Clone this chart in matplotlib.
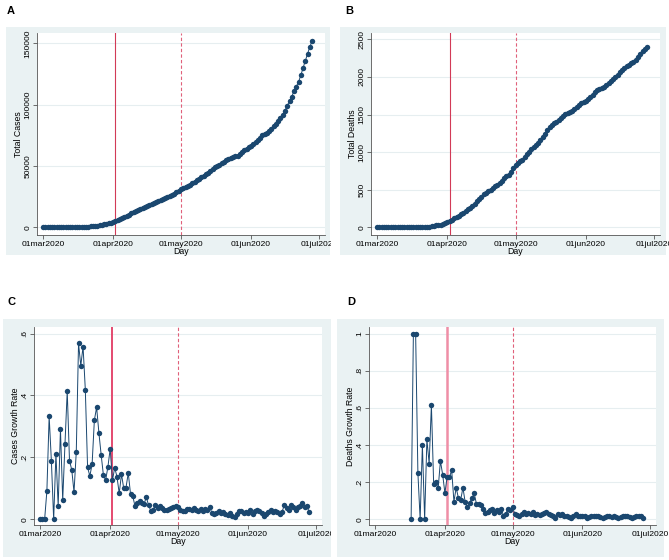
import numpy as np
import pandas as pd
import matplotlib
matplotlib.use("Agg")
import matplotlib.pyplot as plt
from matplotlib.patches import Rectangle

plt.rcParams['font.family'] = ['Liberation Sans', 'DejaVu Sans']

# daily series, 01mar2020 .. 28jun2020
total_cases = [
    11, 11, 11, 12, 16, 19, 19, 23, 24, 31,
    33, 41, 58, 69, 80, 87, 106, 166, 249, 388,
    551, 643, 733, 863, 1139, 1551, 1985, 2400, 2743, 3091,
    3617, 4441, 5000, 5835, 6640, 7198, 8249, 9074, 10009, 11510,
    12454, 13388, 13950, 14675, 15527, 16365, 17183, 18420, 19249, 19788,
    20421, 21360, 22150, 23103, 23981, 24748, 25491, 26332, 27306, 28398,
    29648, 30863, 31851, 32711, 33562, 34703, 35918, 37067, 38438, 39591,
    40621, 42002, 43178, 44646, 45985, 47779, 48830, 49758, 50852, 52175,
    53270, 54602, 55639, 56363, 57490, 58065, 58471, 59465, 61011, 62720,
    63974, 65110, 66300, 68000, 69400, 71200, 73100, 74900, 76200, 77100,
    78300, 80100, 82400, 84300, 86600, 88700, 91400, 95200, 99200, 102700,
    106600, 110900, 114600, 118600, 123800, 129900, 135700, 141600, 147000, 152000,
]
total_deaths = [
    0, 0, 0, 0, 0, 0, 0, 0, 0, 0,
    0, 0, 0, 0, 0, 1, 1, 2, 4, 5,
    5, 7, 7, 10, 13, 21, 25, 30, 35, 46,
    57, 67, 80, 98, 120, 132, 154, 171, 189, 220,
    240, 255, 278, 308, 350, 378, 408, 438, 462, 478,
    497, 521, 549, 568, 596, 620, 653, 680, 700, 740,
    785, 835, 862, 884, 898, 930, 975, 1002, 1035, 1062,
    1093, 1120, 1160, 1198, 1245, 1290, 1330, 1360, 1385, 1400,
    1425, 1455, 1480, 1510, 1525, 1535, 1545, 1570, 1597, 1630,
    1650, 1662, 1680, 1710, 1735, 1765, 1795, 1820, 1838, 1850,
    1860, 1890, 1920, 1945, 1978, 2000, 2030, 2060, 2090, 2115,
    2140, 2165, 2180, 2195, 2225, 2265, 2305, 2340, 2375, 2395,
]
cases_growth = [
    0, 0, 0, 0.092, 0.333, 0.187, 0, 0.211, 0.043, 0.292,
    0.062, 0.243, 0.415, 0.19, 0.16, 0.088, 0.218, 0.568, 0.496, 0.558,
    0.419, 0.168, 0.14, 0.178, 0.32, 0.362, 0.28, 0.209, 0.143, 0.127,
    0.17, 0.228, 0.126, 0.167, 0.138, 0.084, 0.146, 0.10, 0.103, 0.15,
    0.082, 0.075, 0.042, 0.052, 0.058, 0.054, 0.05, 0.072, 0.045, 0.028,
    0.032, 0.046, 0.037, 0.043, 0.038, 0.032, 0.03, 0.033, 0.037, 0.04,
    0.044, 0.041, 0.032, 0.027, 0.026, 0.034, 0.035, 0.032, 0.037, 0.03,
    0.026, 0.034, 0.028, 0.034, 0.03, 0.039, 0.022, 0.019, 0.022, 0.026,
    0.021, 0.025, 0.019, 0.013, 0.02, 0.01, 0.007, 0.017, 0.026, 0.028,
    0.02, 0.024, 0.021, 0.029, 0.019, 0.026, 0.029, 0.026, 0.02, 0.011,
    0.017, 0.025, 0.031, 0.023, 0.028, 0.024, 0.017, 0.024, 0.045, 0.037,
    0.032, 0.045, 0.039, 0.03, 0.041, 0.043, 0.053, 0.041, 0.043, 0.025,
]
nan = np.nan
deaths_growth = [
    nan, nan, nan, nan, nan, nan, nan, nan, nan, nan,
    nan, nan, nan, nan, nan, nan, 0, 1.0, 1.0, 0.25,
    0, 0.4, 0, 0.43, 0.3, 0.615, 0.19, 0.2, 0.166, 0.314,
    0.24, 0.141, 0.229, 0.225, 0.264, 0.095, 0.17, 0.113, 0.104, 0.17,
    0.091, 0.064, 0.09, 0.113, 0.139, 0.082, 0.08, 0.075, 0.055, 0.035,
    0.04, 0.05, 0.055, 0.035, 0.05, 0.04, 0.055, 0.02, 0.03, 0.055,
    0.05, 0.065, 0.03, 0.025, 0.015, 0.03, 0.04, 0.03, 0.035, 0.03,
    0.04, 0.025, 0.03, 0.025, 0.03, 0.035, 0.04, 0.03, 0.025, 0.015,
    0.005, 0.03, 0.025, 0.03, 0.015, 0.02, 0.01, 0.005, 0.015, 0.03,
    0.015, 0.02, 0.015, 0.02, 0.005, 0.01, 0.02, 0.02, 0.015, 0.015,
    0.01, 0.005, 0.01, 0.015, 0.015, 0.01, 0.015, 0.01, 0.005, 0.01,
    0.02, 0.02, 0.015, 0.01, 0.005, 0.01, 0.015, 0.02, 0.015, 0.005,
]

days = pd.date_range("2020-03-01", periods=len(total_cases))
tick_dates = pd.to_datetime(["2020-03-01", "2020-04-01", "2020-05-01", "2020-06-01", "2020-07-01"])
tick_names = ["01mar2020", "01apr2020", "01may2020", "01jun2020", "01jul2020"]
lockdown = pd.Timestamp("2020-04-02")
reopen = pd.Timestamp("2020-05-01")

W, H = 669, 560
NAVY = "#1a476f"
REGION = "#eaf2f3"
fig = plt.figure(figsize=(W / 100, H / 100), dpi=100)


def px_axes(x0, y0, x1, y1):
    return fig.add_axes([x0 / W, 1 - y1 / H, (x1 - x0) / W, (y1 - y0) / H])


def px_box(x0, y0, x1, y1, color, z=-5):
    fig.add_artist(Rectangle((x0 / W, 1 - y1 / H), (x1 - x0) / W, (y1 - y0) / H,
                             transform=fig.transFigure, facecolor=color,
                             edgecolor="none", zorder=z))


# graph region backgrounds
px_box(6, 27, 330, 255, REGION)
px_box(340, 27, 666, 255, REGION)
px_box(3, 319, 331, 557, REGION)
px_box(337, 319, 664, 557, REGION)

panels = [
    ("A", (37, 33, 325, 235), total_cases, "Total Cases",
     [0, 50000, 100000, 150000], ["0", "50000", "100000", "150000"], (-6300, 158400), 11, 11, "thin"),
    ("B", (371, 33, 660, 235), total_deaths, "Total Deaths",
     [0, 500, 1000, 1500, 2000, 2500], ["0", "500", "1000", "1500", "2000", "2500"], (-102, 2584), 349, 11, "thin"),
    ("C", (34, 327, 322, 525), cases_growth, "Cases Growth Rate",
     [0, 0.2, 0.4, 0.6], ["0", ".2", ".4", ".6"], (-0.018, 0.621), 11, 302, "thickC"),
    ("D", (369, 327, 656, 525), deaths_growth, "Deaths Growth Rate",
     [0, 0.2, 0.4, 0.6, 0.8, 1.0], ["0", ".2", ".4", ".6", ".8", "1"], (-0.031, 1.035), 351, 302, "thickD"),
]

solid_style = {
    "thin": ("#d23a57", 0.8),
    "thickC": ("#e23c64", 1.3),
    "thickD": ("#ef8ea6", 1.8),
}

for letter, box, values, ylabel, yt, ytl, ylim, lx, ly, sstyle in panels:
    ax = px_axes(*box)
    ax.set_facecolor("white")
    ax.plot(days, values, color=NAVY, linewidth=0.7, marker="o",
            markersize=3.9, markeredgewidth=0, zorder=3)
    col, lw = solid_style[sstyle]
    ax.axvline(lockdown, color=col, linewidth=lw, zorder=2)
    ax.axvline(reopen, color="#e0607a", linewidth=0.8, linestyle=(0, (3, 2)), zorder=2)

    ax.set_xlim(tick_dates[0] - pd.Timedelta(days=2.7), tick_dates[-1] + pd.Timedelta(days=2.7))
    ax.set_ylim(*ylim)
    ax.set_xticks(tick_dates)
    ax.set_xticklabels(tick_names)
    ax.set_yticks(yt)
    ax.set_yticklabels(ytl, rotation=90, va="center")
    ax.tick_params(axis="both", labelsize=6.1, length=3, width=0.6, color="#555555", pad=1)
    ax.grid(axis="y", color="#e6eef0", linewidth=0.8, zorder=0)
    ax.set_axisbelow(True)
    for s in ["top", "right"]:
        ax.spines[s].set_visible(False)
    for s in ["left", "bottom"]:
        ax.spines[s].set_color("#555555")
        ax.spines[s].set_linewidth(0.6)
    ax.set_xlabel("Day", fontsize=6.3, labelpad=-0.5)
    ax.set_ylabel(ylabel, fontsize=6.3, labelpad=1)
    fig.text(lx / W, 1 - ly / H, letter, fontsize=8, fontweight="bold",
             ha="center", va="center")

# clip the left column's last tick label at the panel edge
px_box(331, 220, 339.5, 262, "white", z=10)
px_box(331, 500, 337, 560, "white", z=10)

fig.savefig("out.png", dpi=100, facecolor="white")
